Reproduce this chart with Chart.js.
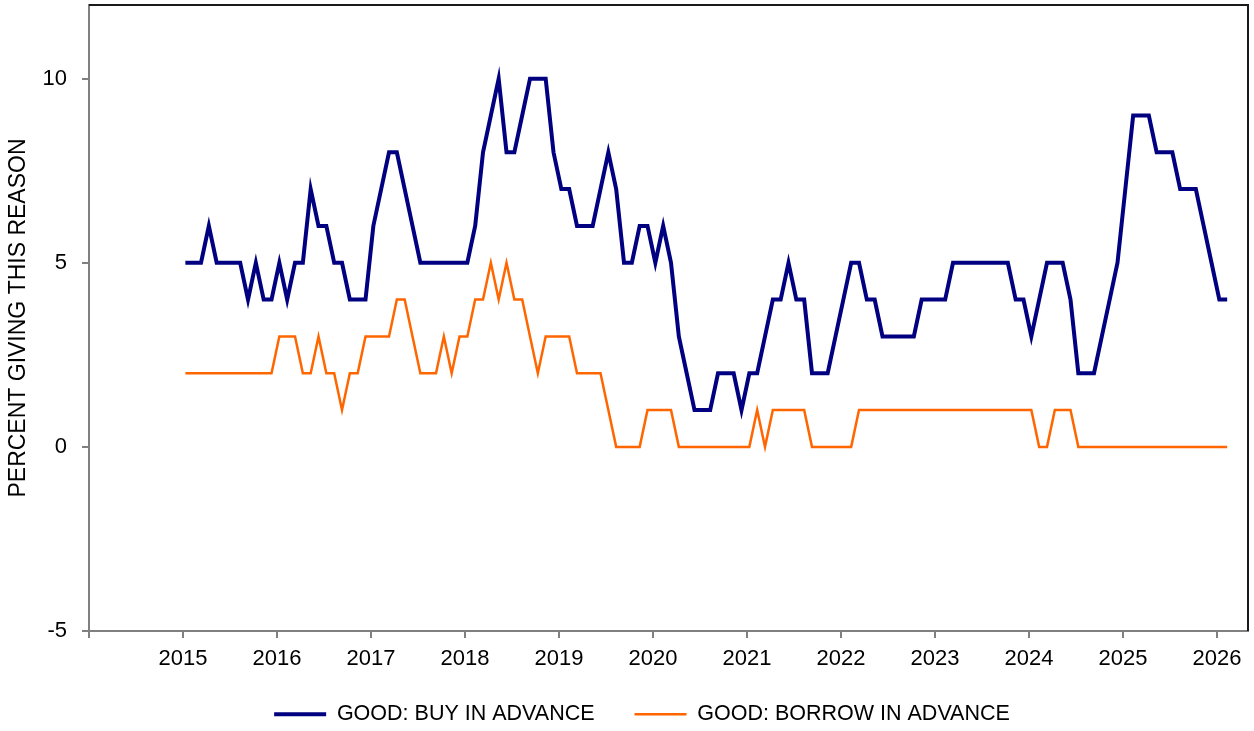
<!DOCTYPE html>
<html>
<head>
<meta charset="utf-8">
<script src="https://cdn.jsdelivr.net/npm/chart.js@4.4.1/dist/chart.umd.min.js"></script>
<style>
html, body { margin: 0; padding: 0; background: #fff; }
</style>
</head>
<body>
<canvas id="graph" width="1254" height="731"></canvas>
<script>
// monthly readings, Jan 2015 .. Feb 2026
const firstYear = 2015;

const buyInAdvance = [
    5, 5, 5, 6, 5, 5, 5, 5, 4, 5, 4, 4,
    5, 4, 5, 5, 7, 6, 6, 5, 5, 4, 4, 4,
    6, 7, 8, 8, 7, 6, 5, 5, 5, 5, 5, 5,
    5, 6, 8, 9, 10, 8, 8, 9, 10, 10, 10, 8,
    7, 7, 6, 6, 6, 7, 8, 7, 5, 5, 6, 6,
    5, 6, 5, 3, 2, 1, 1, 1, 2, 2, 2, 1,
    2, 2, 3, 4, 4, 5, 4, 4, 2, 2, 2, 3,
    4, 5, 5, 4, 4, 3, 3, 3, 3, 3, 4, 4,
    4, 4, 5, 5, 5, 5, 5, 5, 5, 5, 4, 4,
    3, 4, 5, 5, 5, 4, 2, 2, 2, 3, 4, 5,
    7, 9, 9, 9, 8, 8, 8, 7, 7, 7, 6, 5,
    4, 4
];

const borrowInAdvance = [
    2, 2, 2, 2, 2, 2, 2, 2, 2, 2, 2, 2,
    3, 3, 3, 2, 2, 3, 2, 2, 1, 2, 2, 3,
    3, 3, 3, 4, 4, 3, 2, 2, 2, 3, 2, 3,
    3, 4, 4, 5, 4, 5, 4, 4, 3, 2, 3, 3,
    3, 3, 2, 2, 2, 2, 1, 0, 0, 0, 0, 1,
    1, 1, 1, 0, 0, 0, 0, 0, 0, 0, 0, 0,
    0, 1, 0, 1, 1, 1, 1, 1, 0, 0, 0, 0,
    0, 0, 1, 1, 1, 1, 1, 1, 1, 1, 1, 1,
    1, 1, 1, 1, 1, 1, 1, 1, 1, 1, 1, 1,
    1, 0, 0, 1, 1, 1, 0, 0, 0, 0, 0, 0,
    0, 0, 0, 0, 0, 0, 0, 0, 0, 0, 0, 0,
    0, 0
];

const seriesNames = ['GOOD: BUY IN ADVANCE', 'GOOD: BORROW IN ADVANCE'];
const tickYears = [2014, 2015, 2016, 2017, 2018, 2019, 2020, 2021, 2022, 2023, 2024, 2025, 2026];
const tickLabels = ['', '2015', '2016', '2017', '2018', '2019', '2020', '2021', '2022', '2023', '2024', '2025', '2026'];
const yTicks = [-5, 0, 5, 10];

const toPoints = vals => vals.map((v, i) => ({ x: firstYear + (i + 0.3) / 12, y: v }));

Chart.defaults.font.family = 'Arial, "Liberation Sans", sans-serif';
Chart.defaults.color = '#000';

// top and right edges of the plot box, and nudge the legend into place
const frame = {
    id: 'frame',
    afterLayout(chart) {
        const lg = chart.legend;
        lg.left += 18;
        lg.right += 18;
        lg.top += 4;
        lg.bottom += 4;
        // keep the year labels inside the x scale's clip box
        chart.scales.x.bottom = chart.scales.x.top + 44;
    },
    afterDraw(chart) {
        const { ctx, chartArea: a } = chart;
        ctx.save();
        ctx.strokeStyle = '#1a1a1a';
        ctx.lineWidth = 2;
        ctx.beginPath();
        ctx.moveTo(a.left, a.top);
        ctx.lineTo(a.right, a.top);
        ctx.lineTo(a.right, a.bottom);
        ctx.stroke();
        ctx.restore();
    }
};

const axisGrid = { drawOnChartArea: false, tickLength: 7, color: '#808080', lineWidth: 2 };
const axisBorder = { color: '#808080', width: 2 };

new Chart(document.getElementById('graph'), {
    type: 'line',
    data: {
        datasets: [
            {
                label: seriesNames[0],
                data: toPoints(buyInAdvance),
                borderColor: '#000080',
                backgroundColor: '#000080',
                borderWidth: 4,
                pointRadius: 0,
                tension: 0
            },
            {
                label: seriesNames[1],
                data: toPoints(borrowInAdvance),
                borderColor: '#ff6600',
                backgroundColor: '#ff6600',
                borderWidth: 2.5,
                pointRadius: 0,
                tension: 0
            }
        ]
    },
    options: {
        responsive: false,
        animation: false,
        layout: { padding: { top: 5, right: 6, left: 0, bottom: 0 } },
        scales: {
            x: {
                type: 'linear',
                min: 2014,
                max: 2026.33,
                afterBuildTicks: ax => { ax.ticks = tickYears.map(v => ({ value: v })); },
                afterFit: s => {
                    s.height = 28.5;
                    s.paddingLeft = 0;
                    s.paddingRight = 0;
                },
                ticks: {
                    callback: (v, i) => tickLabels[i],
                    font: { size: 22 },
                    padding: 8,
                    maxRotation: 0,
                    autoSkip: false
                },
                grid: axisGrid,
                border: axisBorder
            },
            y: {
                min: -5,
                max: 12,
                afterBuildTicks: ax => { ax.ticks = yTicks.map(v => ({ value: v })); },
                afterFit: s => {
                    s.width = 89;
                    s.paddingTop = 0;
                    s.paddingBottom = 0;
                },
                ticks: { font: { size: 22 }, padding: 15 },
                grid: axisGrid,
                border: axisBorder,
                title: {
                    display: true,
                    text: 'PERCENT GIVING THIS REASON',
                    font: { size: 23 },
                    padding: { top: 5, bottom: 0 }
                }
            }
        },
        plugins: {
            tooltip: { enabled: false },
            legend: {
                position: 'bottom',
                labels: {
                    usePointStyle: true,
                    pointStyle: 'line',
                    pointStyleWidth: 52,
                    font: { size: 21.5 },
                    padding: 40
                }
            }
        }
    },
    plugins: [frame]
});
</script>
</body>
</html>
